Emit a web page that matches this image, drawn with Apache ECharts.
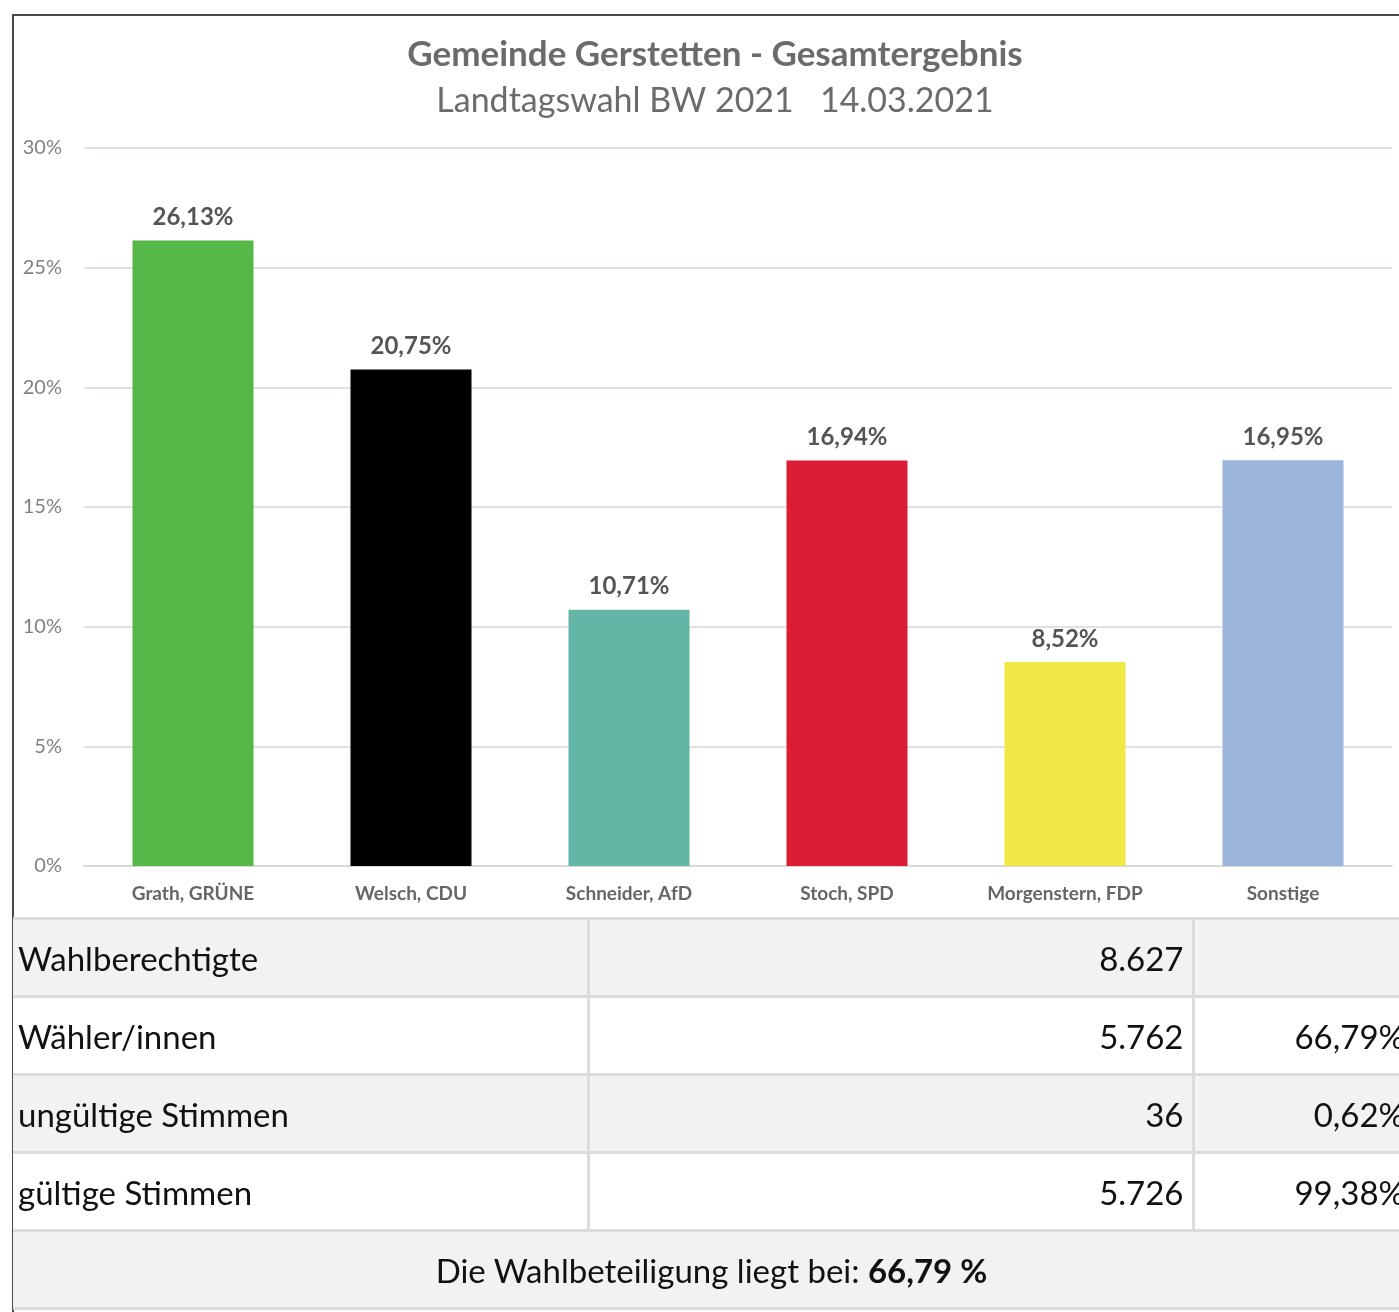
<!DOCTYPE html>
<html>
<head>
<meta charset="utf-8">
<script src="https://cdn.jsdelivr.net/npm/echarts@6/dist/echarts.min.js"></script>
<style>
  html, body { margin:0; padding:0; width:1399px; height:1312px; overflow:hidden; background:#fff; font-family: Lato, "Open Sans", sans-serif; }
  #frame { position:absolute; left:12px; top:14px; width:1420px; height:1320px; border-left:2px solid #4a4a4a; border-top:2px solid #4a4a4a; box-sizing:border-box; }
  #chart { position:absolute; left:0; top:0; width:1399px; height:918px; }
  #table { position:absolute; left:13px; top:917px; width:1400px; border-collapse:collapse; table-layout:fixed; }
  #table td { height:78px; border-top:3px solid #dcdcdc; border-bottom:3px solid #dcdcdc; font-size:33px; color:#111; padding:0 8px 0 5px; box-sizing:border-box; }
  #table tr.g td { background:#f2f2f2; }
  #table tr.w td { background:#ffffff; }
  #table td.c2, #table td.c3 { text-align:right; border-left:3px solid #dcdcdc; }
  #table td.foot { text-align:center; font-size:33px; }
</style>
</head>
<body>
<div id="frame"></div>
<div id="chart"></div>
<table id="table"></table>
<script>
// ---- Data ----
var titleText = 'Gemeinde Gerstetten - Gesamtergebnis';
var subtitleText = 'Landtagswahl BW 2021   14.03.2021';
var categories = ['Grath, GRÜNE', 'Welsch, CDU', 'Schneider, AfD', 'Stoch, SPD', 'Morgenstern, FDP', 'Sonstige'];
var values = [26.13, 20.75, 10.71, 16.94, 8.52, 16.95];
var barColors = ['#55b848', '#000000', '#63b5a5', '#da1d35', '#efe845', '#9cb5db'];
var yTicks = [0, 5, 10, 15, 20, 25, 30];

var tableLabels = ['Wahlberechtigte', 'Wähler/innen', 'ungültige Stimmen', 'gültige Stimmen'];
var tableCounts = ['8.627', '5.762', '36', '5.726'];
var tableShares = ['', '66,79%', '0,62%', '99,38%'];
var turnoutText = 'Die Wahlbeteiligung liegt bei: ';
var turnoutValue = '66,79 %';

// ---- Table ----
var tbl = document.getElementById('table');
var html = '<colgroup><col style="width:575px"><col style="width:605px"><col style="width:220px"></colgroup>';
for (var i = 0; i < tableLabels.length; i++) {
  html += '<tr class="' + (i % 2 === 0 ? 'g' : 'w') + '"><td>' + tableLabels[i] + '</td><td class="c2">' + tableCounts[i] + '</td><td class="c3">' + tableShares[i] + '</td></tr>';
}
html += '<tr class="g"><td class="foot" colspan="3">' + turnoutText + '<b>' + turnoutValue + '</b></td></tr>';
tbl.innerHTML = html;

// ---- Chart ----
var chart = echarts.init(document.getElementById('chart'), null, { renderer: 'canvas' });
chart.setOption({
  animation: false,
  title: [
    { text: titleText, left: 710, top: 32, textAlign: 'center',
      textStyle: { fontFamily: 'Lato', fontWeight: 'bold', fontSize: 35, color: '#6b6b6b' } },
    { text: subtitleText, left: 710, top: 79, textAlign: 'center',
      textStyle: { fontFamily: 'Lato', fontWeight: 'normal', fontSize: 34, color: '#6b6b6b' } }
  ],
  grid: { left: 84, right: 7, top: 148, bottom: 52, containLabel: false },
  xAxis: {
    type: 'category',
    data: categories,
    axisTick: { show: false },
    axisLine: { lineStyle: { color: '#d9d9d9', width: 2 } },
    axisLabel: { margin: 18, fontFamily: 'Lato', fontWeight: 'bold', fontSize: 19, color: '#666666' }
  },
  yAxis: {
    type: 'value',
    min: yTicks[0], max: yTicks[yTicks.length - 1], interval: 5,
    axisLine: { show: false }, axisTick: { show: false },
    splitLine: { lineStyle: { color: '#e4e0dc', width: 2 } },
    axisLabel: { margin: 22, fontFamily: 'Lato', fontSize: 20, color: '#808080', formatter: '{value}%' }
  },
  series: [{
    type: 'bar',
    barWidth: 121,
    data: values.map(function (v, i) { return { value: v, itemStyle: { color: barColors[i] } }; }),
    label: {
      show: true, position: 'top', distance: 11,
      fontFamily: 'Lato', fontWeight: 'bold', fontSize: 24, color: '#555555',
      formatter: function (p) { return p.value.toFixed(2).replace('.', ',') + '%'; }
    }
  }]
});
</script>
</body>
</html>
